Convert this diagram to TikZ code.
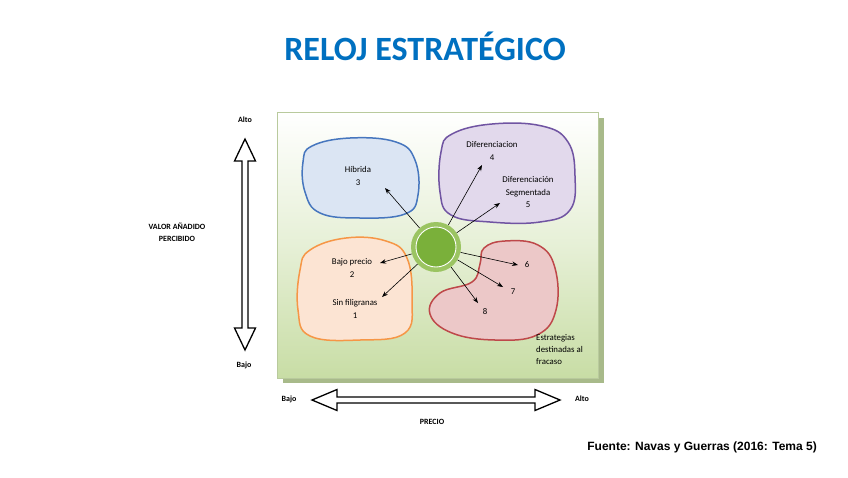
\documentclass[tikz,border=0pt]{standalone}
\usepackage{fontspec}
\setmainfont{Carlito}
\newfontfamily\arialfont{Liberation Sans}
\usetikzlibrary{arrows.meta,positioning}
\definecolor{titleblue}{RGB}{0,112,192}
\definecolor{panelgreen}{RGB}{200,221,165}
\definecolor{shadowgreen}{RGB}{168,186,138}
\definecolor{blueline}{RGB}{70,118,190}
\definecolor{bluefill}{RGB}{219,229,243}
\definecolor{purpleline}{RGB}{112,84,162}
\definecolor{purplefill}{RGB}{226,217,236}
\definecolor{orangeline}{RGB}{246,150,70}
\definecolor{orangefill}{RGB}{252,228,211}
\definecolor{redline}{RGB}{190,72,74}
\definecolor{redfill}{RGB}{236,200,200}
\definecolor{ringgreen}{RGB}{155,196,98}
\definecolor{innergreen}{RGB}{122,176,58}
\begin{document}
\begin{tikzpicture}[x=1pt,y=-1pt,font=\fontsize{8.8}{12.3}\selectfont,
	label/.style={align=center, inner sep=1pt},
	side/.style={font=\fontsize{8}{12}\selectfont\bfseries, align=center, inner sep=1pt},
	ray/.style={-{Stealth[length=6pt,width=4.5pt]}, line width=0.6pt},
	bigarrow/.style={draw=black, fill=white, line width=1.3pt, line join=miter},
	blob/.style={line width=1.5pt}]
	\useasboundingbox (0,0) rectangle (848,477);
	%title
	\node (titulo) at (425,46) {\fontsize{34}{38}\selectfont\bfseries\color{titleblue}RELOJ ESTRATÉGICO};
	%panel
	\fill[shadowgreen] (283,118) rectangle (604,383);
	\shade[top color=white, bottom color=panelgreen, middle color=white!55!panelgreen, draw=panelgreen!80!gray, line width=0.4pt]
	(277,112) rectangle (598,378);
	%blobs
	\draw[blob, draw=blueline, fill=bluefill] plot[smooth cycle, tension=0.7]
	coordinates{(312,146) (350,138) (396,142) (415,160) (418,195) (405,214)
		(360,218) (320,213) (305,192) (303,162)};
	\draw[blob, draw=purpleline, fill=purplefill] plot[smooth cycle, tension=0.7]
	coordinates{(452,134) (492,124) (542,126) (568,142) (575,176) (570,210)
		(540,222) (490,222) (451,215) (440,192) (441,152)};
	\draw[blob, draw=orangeline, fill=orangefill] plot[smooth cycle, tension=0.7]
	coordinates{(310,250) (346,238) (386,241) (407,258) (412,300) (405,333)
		(360,340) (310,336) (298,310) (300,270)};
	\draw[blob, draw=redline, fill=redfill] plot[smooth cycle, tension=0.7]
	coordinates{(484,248) (505,241) (538,245) (555,268) (556,310) (537,335)
		(495,340) (452,333) (430,314) (440,293) (472,282) (480,264)};
	%centre
	\node (centro) [circle, minimum size=50pt, inner sep=0pt, fill=ringgreen] at (436,247) {};
	\fill[innergreen, draw=white, line width=0.9pt] (centro.center) circle (20);
	%labels
	\node[label] (hibrida) at (358,176) {Híbrida\\3};
	\node[label] (dif) at (492,151) {Diferenciacion\\4};
	\node[label] (difseg) at (528,192) {Diferenciación\\Segmentada\\5};
	\node[label] (bajo) at (352,268) {Bajo precio\\2};
	\node[label] (sinfil) at (355,309) {Sin filigranas\\1};
	\node[label] (n6) at (527,265) {6};
	\node[label] (n7) at (513,292) {7};
	\node[label] (n8) at (485,312) {8};
	\node[label, align=left, anchor=north west] (fracaso) at (535,333) {Estrategias\\destinadas al\\fracaso};
	%rays
	\coordinate (p3) at (385,188);
	\coordinate (p4) at (482,165);
	\coordinate (p5) at (500,203);
	\coordinate (p2) at (380,263);
	\coordinate (p1) at (382,297);
	\coordinate (p6) at (518,265);
	\coordinate (p7) at (503,287);
	\coordinate (p8) at (478,303);
	\foreach \p in {1,...,8}
	\draw[ray] (centro) -- (p\p);
	%axes
	\draw[bigarrow] (245,139) -- (255.5,161) -- (248,161) -- (248,328) -- (255.5,328)
	-- (245,350) -- (234.5,328) -- (242,328) -- (242,161) -- (234.5,161) -- cycle;
	\draw[bigarrow] (312,400) -- (337,389.5) -- (337,397) -- (535,397) -- (535,389.5)
	-- (560,400) -- (535,410.5) -- (535,403) -- (337,403) -- (337,410.5) -- cycle;
	\node[side] (valto) at (245,120) {Alto};
	\node[side] (vbajo) at (244,365) {Bajo};
	\node[side] (valor) at (177,232) {VALOR AÑADIDO\\PERCIBIDO};
	\node[side] (hbajo) at (289,399) {Bajo};
	\node[side] (halto) at (582,399) {Alto};
	\node[side] (precio) at (432,422) {PRECIO};
	%source
	\node[anchor=east, inner sep=0pt] (fuente) at (817,447)
	{\arialfont\fontsize{12}{14}\selectfont\bfseries Fuente: Navas y Guerras (2016: Tema 5)};
\end{tikzpicture}
\end{document}
